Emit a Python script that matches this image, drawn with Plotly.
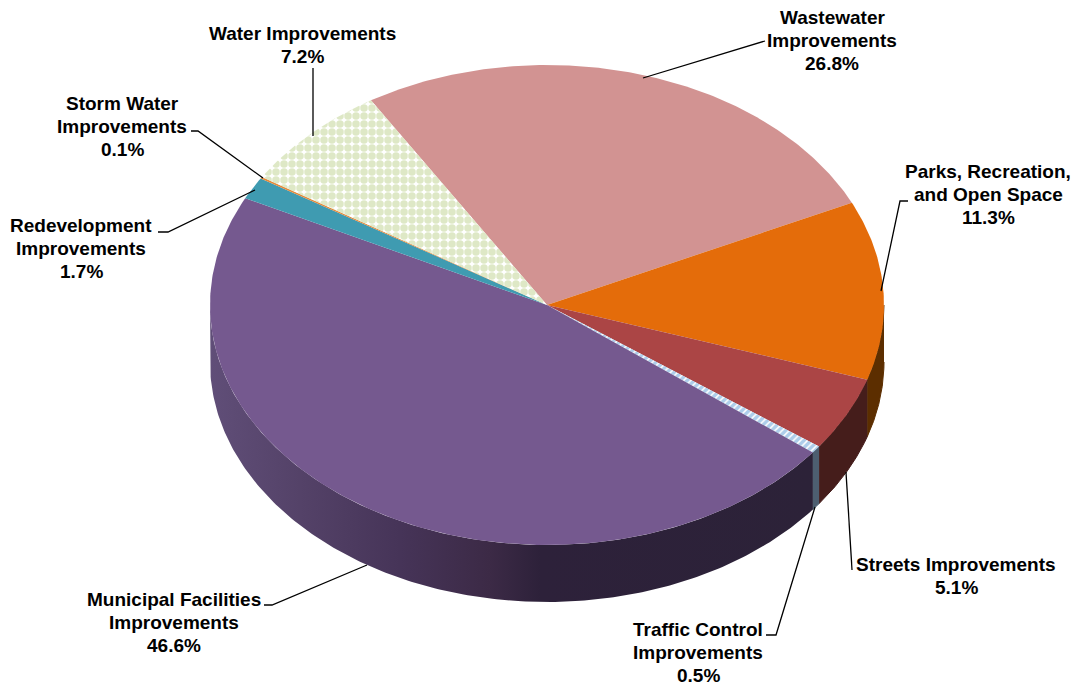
import numpy as np
import plotly.graph_objects as go

# ---- data (clockwise from the top-left edge of the Wastewater slice) ----
categories = ["Wastewater<br>Improvements", "Parks, Recreation,<br>and Open Space", "Streets Improvements",
              "Traffic Control<br>Improvements", "Municipal Facilities<br>Improvements",
              "Redevelopment<br>Improvements", "Storm Water<br>Improvements", "Water Improvements"]
values = [26.8, 11.3, 5.1, 0.5, 46.6, 1.7, 0.1, 7.2]

# ---- styling ----
top_colors = ["#D29392", "#E46C0A", "#AB4545", "#FFFFFF", "#75598F", "#3F9BB1", "#E48A3B", "#FFFFFF"]
wall_colors = ["#6B4A49", "#5C2E00", "#451D1B", "#4D5E70", None, "#22505A", "#74461E", "#62704E"]
label_pos = [(832, 40), (988, 194), (956, 576), (698, 652), (174, 622), (81, 248), (122, 126), (302, 45)]
leaders = [
    [(643, 78), (765, 41)],
    [(881, 291), (900, 201), (908, 201)],
    [(846, 472), (852, 570)],
    [(815, 507), (776, 635), (766, 635)],
    [(367, 565), (272, 605), (264, 605)],
    [(255, 190), (168, 232), (158, 232)],
    [(263, 178), (198, 131), (191, 131)],
    [(313, 136), (313, 68)],
]
CX, CY, RX, RY, DEPTH = 547, 305, 337, 240, 57
START_DEG = 121.5
LINE_GAP = 23
grad_stops = [(210, "#604E78"), (300, "#544268"), (400, "#463458"), (490, "#3C2A46"),
              (540, "#2D213A"), (820, "#2C2238")]
# small correction for the perspective of the tilted pie: drawn angle minus plain angle
persp_deg = [-238.5, -212.0, -205.5, -37.0, -16.5, 24.4, 121.5]
persp_fix = [0.0, 0.2, -0.6, -1.0, -1.5, 0.9, 0.0]

fracs = np.array(values) / sum(values)
edges = START_DEG - np.concatenate([[0], np.cumsum(fracs)]) * 360
edges = edges + np.interp(edges, persp_deg, persp_fix)


def ex(t):
    return CX + RX * np.cos(np.radians(t))


def ey(t):
    return CY - RY * np.sin(np.radians(t))


fig = go.Figure()


def add_poly(xs, ys, color=None, line=False, pattern=None, gradient=None):
    kw = dict(x=list(xs), y=list(ys), mode="lines", fill="toself", hoverinfo="skip", showlegend=False)
    kw["fillcolor"] = color if color else "rgba(0,0,0,0)"
    kw["line"] = dict(color=color, width=1) if line else dict(width=0)
    if pattern:
        kw["fillpattern"] = pattern
    if gradient:
        kw["fillgradient"] = gradient
    fig.add_trace(go.Scatter(**kw))


def wall_arc(a, b):
    """Front-facing part of the arc a -> b (a > b, both degrees, clockwise)."""
    out = []
    for k in (-1, 0, 1):
        lo = max(b, -180 + 360 * k)
        hi = min(a, 360 * k)
        if hi > lo:
            out.append((hi, lo))
    return out


# side walls
for i in range(len(values)):
    a, b = edges[i], edges[i + 1]
    for hi, lo in wall_arc(a, b):
        tt = np.linspace(hi, lo, 200)
        xs = np.r_[ex(tt), ex(tt[::-1])]
        ys = np.r_[ey(tt), ey(tt[::-1]) + DEPTH]
        if wall_colors[i] is None:
            x0, x1 = xs.min(), xs.max()
            scale = [[min(1, max(0, (sx - x0) / (x1 - x0))), c] for sx, c in grad_stops]
            scale[0][0] = 0
            scale[-1][0] = 1
            add_poly(xs, ys, pattern=None,
                     gradient=dict(type="horizontal", colorscale=scale))
        else:
            add_poly(xs, ys, wall_colors[i], line=True)

# top face
patterns = {
    3: dict(shape="/", fgcolor="#5B9BD5", bgcolor="#FFFFFF", size=5, solidity=0.7),
    7: dict(shape=".", fgcolor="#BDD28E", bgcolor="#FFFFFF", size=8, solidity=0.7),
}
for i in range(len(values)):
    tt = np.linspace(edges[i], edges[i + 1], max(4, int(abs(edges[i] - edges[i + 1]) * 2)))
    xs = np.r_[CX, ex(tt), CX]
    ys = np.r_[CY, ey(tt), CY]
    add_poly(xs, ys, top_colors[i], pattern=patterns.get(i))

# leader lines
for pts in leaders:
    fig.add_trace(go.Scatter(x=[p[0] for p in pts], y=[p[1] for p in pts], mode="lines",
                             line=dict(color="#000000", width=1.3), hoverinfo="skip", showlegend=False))

# labels (each line placed on its own so that the line spacing can be tight)
for name, v, (lx, ly) in zip(categories, values, label_pos):
    lines = name.split("<br>") + [f"{v}%"]
    for k, txt in enumerate(lines):
        fig.add_annotation(x=lx, y=ly + (k - (len(lines) - 1) / 2) * LINE_GAP, xref="x", yref="y",
                           text=f"<b>{txt}</b>", showarrow=False, xanchor="center", yanchor="middle",
                           font=dict(family="Liberation Sans", size=19, color="#000000"))

fig.update_layout(width=1075, height=685, margin=dict(l=0, r=0, t=0, b=0), paper_bgcolor="white",
                  plot_bgcolor="white", showlegend=False,
                  xaxis=dict(range=[0, 1075], visible=False, fixedrange=True),
                  yaxis=dict(range=[685, 0], visible=False, fixedrange=True))
fig.write_html("out.html", config={"displayModeBar": False},
               post_script="document.body.style.margin='0';document.documentElement.style.overflow='hidden';")
